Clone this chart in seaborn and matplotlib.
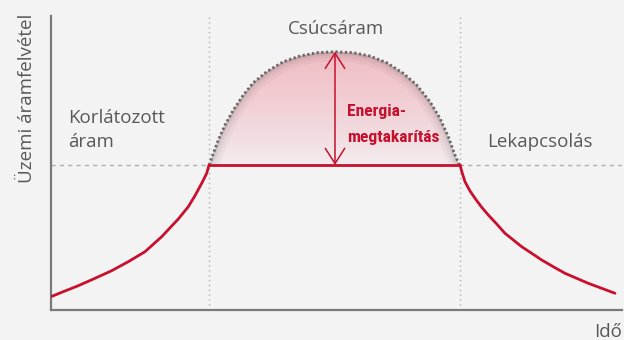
import numpy as np
import matplotlib
matplotlib.use("Agg")
import matplotlib.pyplot as plt
from matplotlib.patches import Polygon
import seaborn as sns

# ---- data (time vs. operating current, arbitrary units) ----
rise_t = [0, 10.7, 27.3, 44, 60.7, 77.3, 94, 110.7, 127.3, 137.3, 144, 150.7, 155.7, 158]
rise_i = [13.3, 17.7, 24.3, 31.7, 39.3, 48.3, 58.3, 73.3, 91, 103.3, 114.3, 126.7, 136.7, 145]

plateau_t = [158, 409]
plateau_i = [145, 145]

fall_t = [409, 411.3, 414, 419, 424, 430.7, 437.3, 445.7, 454, 462.3, 470.7,
          480.7, 490.7, 504, 514, 527.3, 537.3, 550.7, 564]
fall_i = [145, 136.7, 128.3, 119, 111.7, 102.7, 95, 86, 76.7, 70, 63.3,
          56.7, 50, 42.3, 36.7, 31, 26.7, 21.7, 16.7]

peak_t = [158.3, 162.3, 167.3, 174, 182.3, 192.3, 202.3, 215.7, 232.3, 249,
          265.7, 284, 302.3, 319, 335.7, 352.3, 365.7, 379, 389, 397.3, 404, 408.3]
peak_i = [145, 156.7, 170, 185, 200, 215, 227.3, 238.3, 248.3, 254,
          257.3, 258.3, 257.3, 254, 247.3, 236.7, 225, 208.3, 191.7, 173.3, 155, 145]

phase_bounds = [158, 409]
limit_level = 145
arrow_t = 284

labels_gray = [("Korlátozott", 17, 187), ("áram", 17, 163),
               ("Lekapcsolás", 436, 163), ("Csúcsáram", 285, 276)]
saving_lines = [("Energia-", 296, 194), ("megtakarítás", 296, 168.3)]

RED = "#c8102e"
GRAY_TXT = "#585858"
BG = "#f3f3f3"

sns.set_theme(style="white", rc={"figure.facecolor": BG, "axes.facecolor": BG})
plt.rcParams["font.family"] = ["Open Sans", "DejaVu Sans"]

fig = plt.figure(figsize=(6.24, 3.4), dpi=100)
ax = fig.add_axes([51 / 624, 30 / 340, 571 / 624, 294 / 340])
ax.set_xlim(0, 571)
ax.set_ylim(0, 294)
ax.set_xticks([])
ax.set_yticks([])
for s in ("top", "right"):
    ax.spines[s].set_visible(False)
for s in ("left", "bottom"):
    ax.spines[s].set_color("#7a7a7a")
    ax.spines[s].set_linewidth(1.6)

# guide lines
for b in phase_bounds:
    ax.axvline(b, color="#b0b0b0", lw=1.0, ls=(0, (1, 2.5)), zorder=1)
ax.axhline(limit_level, color="#b0b0b0", lw=1.0, ls=(0, (3, 3)), zorder=1)

# gradient fill under the peak curve
poly = Polygon(np.column_stack([peak_t, peak_i]), closed=True,
               facecolor="none", edgecolor="none")
ax.add_patch(poly)
top_c = np.array([240, 188, 195]) / 255
bot_c = np.array([243, 238, 240]) / 255
g = np.linspace(0, 1, 256) ** 0.8
grad = bot_c[None, :] * (1 - g[:, None]) + top_c[None, :] * g[:, None]
grad = np.repeat(grad[:, None, :], 2, axis=1)
im = ax.imshow(grad, extent=[min(peak_t), max(peak_t), limit_level, max(peak_i)],
               origin="lower", aspect="auto", zorder=2, interpolation="bilinear")
im.set_clip_path(poly)
# soft inner shading along the dome edge
for lw, a in [(14, 0.05), (9, 0.06), (5, 0.08), (2.5, 0.10)]:
    edge, = ax.plot(peak_t, peak_i, color="#555555", lw=lw, alpha=a, zorder=3,
                    solid_capstyle="butt", solid_joinstyle="round")
    edge.set_clip_path(poly)

# dotted peak curve
sns.lineplot(x=peak_t, y=peak_i, ax=ax, color="#666666", lw=2.0,
             linestyle=(0, (0.8, 0.9)), zorder=4, sort=False)

# red operating curve
for tt, ii in [(rise_t, rise_i), (plateau_t, plateau_i), (fall_t, fall_i)]:
    sns.lineplot(x=tt, y=ii, ax=ax, color=RED, lw=2.0, zorder=5, sort=False)

# saving arrow
ax.annotate("", xy=(arrow_t, max(peak_i)), xytext=(arrow_t, limit_level),
            arrowprops=dict(arrowstyle="<->,head_length=0.55,head_width=0.35",
                            color=RED, lw=1.1, mutation_scale=20,
                            shrinkA=0, shrinkB=0), zorder=6)

for txt, x, y in labels_gray:
    ha = "center" if txt == "Csúcsáram" else "left"
    ax.text(x, y, txt, color=GRAY_TXT, fontsize=13.5, ha=ha, va="baseline",
            zorder=7, clip_on=False)
for txt, x, y in saving_lines:
    ax.text(x, y, txt, color=RED, fontsize=12.6, fontweight="bold",
            family=["Roboto Condensed", "Open Sans Condensed", "DejaVu Sans"],
            fontstretch="condensed", ha="left", va="baseline", zorder=7)

fig.text(27 / 624, 1 - 98 / 340, "Üzemi áramfelvétel", rotation=90,
         color=GRAY_TXT, fontsize=13.5, ha="center", va="center")
fig.text(622 / 624, 1 - 337 / 340, "Idő", color=GRAY_TXT, fontsize=13.5,
         ha="right", va="baseline")

fig.savefig("out.png", dpi=100, facecolor=BG)
